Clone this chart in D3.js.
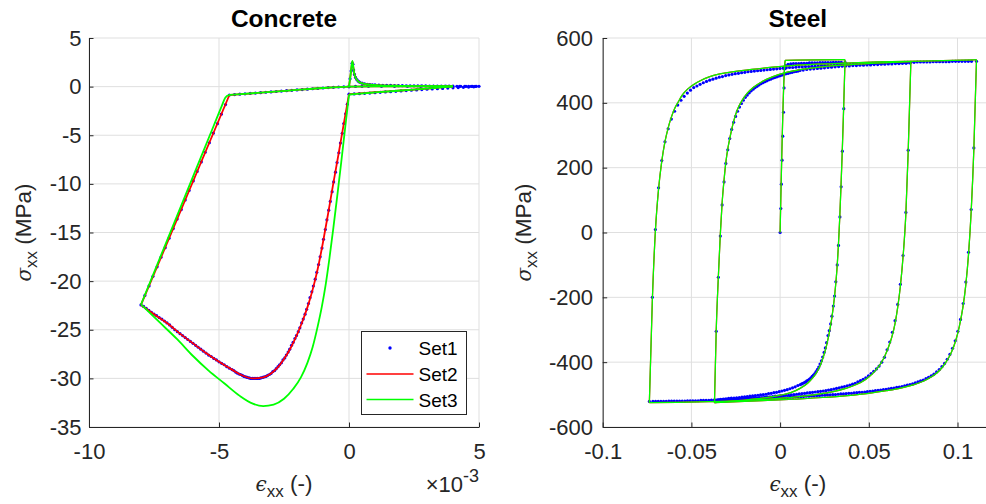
<!DOCTYPE html>
<html><head><meta charset="utf-8">
<script src="https://cdn.jsdelivr.net/npm/d3@7"></script>
<style>
body{margin:0;background:#fff;}
svg{display:block;}
</style></head><body>
<svg id="chart" width="986" height="504"></svg>
<script>
// ---------------- Concrete (strain in 1e-3) ----------------
const concXTicks = [-10, -5, 0, 5];
const concXLabels = ["-10", "-5", "0", "5"];
const concYTicks = [-35, -30, -25, -20, -15, -10, -5, 0, 5];
const concYLabels = ["-35", "-30", "-25", "-20", "-15", "-10", "-5", "0", "5"];

// Set1 (blue dots)
const concSet1 = [
 [0,0],[0.04,0.8],[0.08,1.6],[0.12,2.4],[0.15,2.3],[0.18,1.7],[0.21,1.25],[0.25,0.95],[0.3,0.72],[0.35,0.57],[0.4,0.47],[0.5,0.35],[0.6,0.28],[0.7,0.24],[0.8,0.21],[0.9,0.19],[1.0,0.17],[1.15,0.15],[1.3,0.14],[1.45,0.13],[1.6,0.12],[1.75,0.11],[1.9,0.1],[2.05,0.1],[2.2,0.09],[2.35,0.09],[2.5,0.08],[2.65,0.08],[2.8,0.07],[2.95,0.07],[3.1,0.06],[3.25,0.06],[3.4,0.06],[3.55,0.05],[3.7,0.05],[3.85,0.05],[4.0,0.05],[4.15,0.04],[4.3,0.04],[4.45,0.04],[4.6,0.04],[4.75,0.03],[4.9,0.03],[5.0,0.03],
 [4.8,-0.02],[4.6,-0.05],[4.4,-0.07],[4.2,-0.1],[4.0,-0.12],[3.8,-0.15],[3.6,-0.18],[3.4,-0.21],[3.2,-0.24],[3.0,-0.27],[2.8,-0.3],[2.6,-0.34],[2.4,-0.37],[2.2,-0.41],[2.0,-0.44],[1.8,-0.48],[1.6,-0.52],[1.4,-0.55],[1.2,-0.59],[1.0,-0.62],[0.8,-0.66],[0.6,-0.69],[0.4,-0.72],[0.2,-0.75],[0,-0.78],
 [-0.065,-1.8],[-0.13,-2.8],[-0.2,-3.8],[-0.26,-4.8],[-0.33,-5.8],[-0.39,-6.8],[-0.46,-7.8],[-0.52,-8.8],[-0.59,-9.8],[-0.65,-10.8],[-0.72,-11.8],[-0.78,-12.7],[-0.85,-13.7],[-0.91,-14.7],[-0.98,-15.7],[-1.04,-16.6],[-1.11,-17.5],[-1.17,-18.3],[-1.24,-19.1],[-1.3,-19.8],[-1.37,-20.5],[-1.43,-21.1],[-1.5,-21.7],[-1.56,-22.3],[-1.63,-22.9],[-1.69,-23.4],[-1.76,-23.9],[-1.82,-24.3],[-1.89,-24.8],[-1.95,-25.2],[-2.02,-25.6],[-2.08,-25.9],[-2.15,-26.3],[-2.21,-26.6],[-2.28,-27.0],[-2.34,-27.3],[-2.41,-27.6],[-2.47,-27.9],[-2.54,-28.1],[-2.6,-28.4],[-2.67,-28.6],[-2.73,-28.8],[-2.8,-29.0],[-2.86,-29.2],[-2.93,-29.3],[-3.0,-29.5],[-3.06,-29.6],[-3.13,-29.7],[-3.19,-29.8],[-3.26,-29.85],[-3.32,-29.9],[-3.39,-29.95],[-3.45,-30.0],[-3.52,-30.0],[-3.58,-30.0],[-3.65,-30.0],[-3.71,-30.0],[-3.78,-30.0],[-3.84,-29.95],[-3.91,-29.9],[-3.97,-29.85],[-4.04,-29.8],[-4.1,-29.7],[-4.17,-29.6],[-4.23,-29.55],[-4.3,-29.45],[-4.36,-29.35],[-4.43,-29.2],
 [-4.5,-29.1],[-4.6,-28.95],[-4.7,-28.8],[-4.8,-28.6],[-4.9,-28.45],[-5.0,-28.3],[-5.1,-28.1],[-5.2,-27.95],[-5.3,-27.75],[-5.4,-27.6],[-5.5,-27.4],[-5.6,-27.2],[-5.7,-27.0],[-5.8,-26.8],[-5.9,-26.6],[-6.0,-26.4],[-6.1,-26.2],[-6.2,-26.0],[-6.3,-25.8],[-6.4,-25.6],[-6.5,-25.4],[-6.6,-25.2],[-6.7,-25.0],[-6.8,-24.75],[-6.9,-24.5],[-7.0,-24.3],[-7.1,-24.1],[-7.2,-23.9],[-7.3,-23.75],[-7.4,-23.55],[-7.5,-23.4],[-7.6,-23.2],[-7.7,-23.0],[-7.8,-22.8],[-7.9,-22.6],[-8.0,-22.45],
 [-7.85,-21.47],[-7.69,-20.49],[-7.54,-19.51],[-7.38,-18.53],[-7.23,-17.54],[-7.07,-16.56],[-6.92,-15.58],[-6.76,-14.6],[-6.61,-13.62],[-6.45,-12.64],[-6.3,-11.66],[-6.15,-10.68],[-5.99,-9.7],[-5.84,-8.72],[-5.68,-7.74],[-5.53,-6.75],[-5.37,-5.77],[-5.22,-4.79],[-5.06,-3.81],[-4.91,-2.83],[-4.75,-1.85],[-4.6,-0.86],
 [-4.4,-0.82],[-4.2,-0.78],[-4.0,-0.74],[-3.8,-0.7],[-3.6,-0.66],[-3.4,-0.62],[-3.2,-0.58],[-3.0,-0.54],[-2.8,-0.5],[-2.6,-0.46],[-2.4,-0.42],[-2.2,-0.38],[-2.0,-0.34],[-1.8,-0.3],[-1.6,-0.26],[-1.4,-0.22],[-1.2,-0.18],[-1.0,-0.14],[-0.8,-0.1],[-0.6,-0.07],[-0.4,-0.04],[-0.2,-0.02],[0,0],
 [0.25,0.02],[0.5,0.03],[0.75,0.03],[1.25,0.03],[1.75,0.03],[2.25,0.03],[2.75,0.03],[3.25,0.03],[3.75,0.03],[4.25,0.02],[4.5,0.02],[4.7,0.02],[4.85,0.02]
];

// Set2 (red line), branches
const concSet2 = [
 [[0,0],[0.065,1.3],[0.13,2.6],[0.16,2.1],[0.2,1.4],[0.25,0.95],[0.3,0.7],[0.4,0.45],[0.55,0.3],[0.8,0.2],[1.2,0.13],[2,0.08],[3,0.05],[4,0.03]],
 [[4,0.03],[3,-0.2],[2,-0.4],[1,-0.58],[0.3,-0.72],[0,-0.78]],
 [[0,-0.78],[-0.2,-3.8],[-0.4,-6.9],[-0.6,-9.9],[-0.8,-13.0],[-1.0,-16.0],[-1.2,-18.7],[-1.4,-20.9],[-1.6,-22.7],[-1.8,-24.2],[-2.0,-25.5],[-2.25,-26.9],[-2.5,-28.0],[-2.75,-28.9],[-3.0,-29.5],[-3.3,-29.9],[-3.7,-30.0],[-4.1,-29.7],[-4.5,-29.1],[-5.0,-28.3],[-5.5,-27.4],[-6.0,-26.4],[-6.5,-25.4],[-7.0,-24.3],[-7.5,-23.4],[-8.0,-22.45]],
 [[-8.0,-22.45],[-4.6,-0.86]],
 [[-4.6,-0.86],[-3,-0.55],[-2,-0.34],[-1,-0.14],[0,0],[1,0.03],[2,0.03],[3,0.03],[4,0.03]]
];

// Set3 (green line), branches
const concSet3 = [
 [[0,0],[0.065,1.3],[0.13,2.65],[0.16,2.1],[0.2,1.4],[0.25,0.95],[0.3,0.7],[0.4,0.45],[0.55,0.3],[0.8,0.2],[1.2,0.13],[2,0.08],[3,0.05],[4,0.03]],
 [[4,0.03],[3,-0.2],[2,-0.4],[1,-0.6],[0.3,-0.75],[0,-0.82]],
 [[0,-0.82],[-0.15,-4.3],[-0.3,-7.8],[-0.45,-11.2],[-0.6,-14.5],[-0.75,-17.6],[-0.9,-20.4],[-1.05,-22.7],[-1.2,-24.6],[-1.4,-26.8],[-1.6,-28.4],[-1.85,-29.9],[-2.15,-31.1],[-2.5,-32.1],[-2.9,-32.7],[-3.3,-32.85],[-3.7,-32.6],[-4.2,-31.8],[-4.8,-30.5],[-5.4,-29.2],[-6.0,-27.7],[-6.6,-26.0],[-7.3,-24.2],[-8.0,-22.4]],
 [[-8.0,-22.4],[-7.0,-15.83],[-6.0,-9.26],[-5.2,-4.0],[-4.9,-2.03],[-4.76,-1.15],[-4.62,-0.88],[-4.45,-0.82]],
 [[-4.45,-0.82],[-3,-0.55],[-2,-0.34],[-1,-0.14],[0,0],[1,0.03],[2,0.03],[3,0.03],[4,0.03]]
];

// ---------------- Steel ----------------
const steelXTicks = [-0.1, -0.05, 0, 0.05, 0.1];
const steelXLabels = ["-0.1", "-0.05", "0", "0.05", "0.1"];
const steelYTicks = [-600, -400, -200, 0, 200, 400, 600];
const steelYLabels = ["-600", "-400", "-200", "0", "200", "400", "600"];

// Set1 (blue dots)
const steelSet1 = [
 [0,0],[0.0004,74],[0.0007,149],[0.0011,223],[0.0015,297],[0.0019,371],[0.0022,446],[0.0026,505],[0.003,515],[0.0045,519],[0.006,520],[0.0075,521],[0.009,521],[0.0105,521],[0.012,522],[0.0135,522],[0.015,522],[0.0165,523],[0.018,523],[0.0195,523],[0.021,523],[0.0225,524],[0.024,524],[0.0255,524],[0.027,524],[0.0285,524],[0.03,525],[0.0315,525],[0.033,525],[0.0345,525],[0.0366,525],
 [0.0359,382],[0.0351,251],[0.0344,141],[0.0337,48],[0.0329,-40],[0.0322,-100],[0.0314,-152],[0.0307,-196],[0.0300,-227],[0.0292,-258],[0.0285,-282],[0.0277,-303],[0.0270,-318],[0.0262,-340],[0.0255,-356],[0.0248,-370],[0.0240,-384],[0.0233,-396],[0.0225,-406],[0.0218,-415],[0.0211,-422],[0.0203,-429],[0.0196,-435],[0.0188,-440],[0.0181,-444],[0.0174,-448],[0.0166,-452],[0.0159,-455],[0.0151,-458],[0.0144,-461],[0.0137,-463],[0.0129,-465],[0.0122,-467],[0.0114,-469],[0.0100,-472],[0.0085,-476],[0.0070,-479],[0.0055,-482],[0.0040,-485],[0.0025,-487],[0.0010,-489],[-0.0005,-491],[-0.0020,-493],[-0.0035,-494],[-0.0050,-496],[-0.0065,-497],[-0.0080,-499],[-0.0095,-500],[-0.0110,-501],[-0.0125,-502],[-0.0140,-503],[-0.0155,-504],[-0.0170,-505],[-0.0185,-506],[-0.0200,-507],[-0.0215,-508],[-0.0230,-509],[-0.0245,-510],[-0.0260,-511],[-0.0275,-511],[-0.0290,-512],[-0.0305,-513],[-0.0320,-514],[-0.0335,-515],[-0.0350,-516],[-0.0368,-517],
 [-0.0360,-305],[-0.0348,-138],[-0.0337,-11],[-0.0327,85],[-0.0316,156],[-0.0306,213],[-0.0295,255],[-0.0284,290],[-0.0273,318],[-0.0262,340],[-0.0251,358],[-0.0240,374],[-0.0229,387],[-0.0218,398],[-0.0207,408],[-0.0196,417],[-0.0185,424],[-0.0174,431],[-0.0163,437],[-0.0152,442],[-0.0141,447],[-0.0130,451],[-0.0119,455],[-0.0108,459],[-0.0097,462],[-0.0086,465],[-0.0075,468],[-0.0064,471],[-0.0053,473],[-0.0042,476],[-0.0031,478],[-0.0020,480],[-0.0009,482],[0.0002,484],[0.0013,486],[0.0024,488],[0.0035,490],[0.0046,491],[0.0057,493],[0.0068,494],[0.0079,496],[0.0090,497],[0.0101,498],[0.0112,500],[0.013,501],[0.015,503],[0.017,504],[0.019,505],[0.021,506],[0.023,507],[0.025,508],[0.027,509],[0.029,510],[0.031,511],[0.033,512],[0.035,513],[0.037,514],[0.039,514],[0.041,515],[0.043,515],[0.045,516],[0.047,516],[0.049,517],[0.051,517],[0.053,518],[0.055,518],[0.057,519],[0.059,519],[0.061,520],[0.063,520],[0.065,521],[0.067,521],[0.069,522],[0.071,522],[0.0731,523],
 [0.0722,254],[0.0709,62],[0.0693,-71],[0.0678,-160],[0.0663,-222],[0.0648,-272],[0.0633,-308],[0.0618,-338],[0.0603,-362],[0.0588,-385],[0.0573,-400],[0.0558,-412],[0.0543,-421],[0.0528,-428],[0.0513,-435],[0.0498,-442],[0.0483,-448],[0.0468,-453],[0.0453,-457],[0.0438,-461],[0.0423,-465],[0.0408,-468],[0.0393,-471],[0.0378,-473],[0.0363,-475],[0.0348,-477],[0.0333,-479],[0.0318,-481],[0.0303,-483],[0.0288,-485],[0.0273,-486],[0.0258,-488],[0.0243,-489],[0.0228,-490],[0.0213,-491],[0.0198,-492],[0.0183,-493],[0.0168,-494],[0.0153,-495],[0.0138,-496],[0.0123,-497],[0.0108,-498],[0.0093,-499],[0.0078,-500],[0.0063,-501],[0.0048,-502],[0.0033,-502],[0.0018,-503],[0.0003,-504],[-0.0012,-505],[-0.0027,-505],[-0.0042,-506],[-0.0057,-507],[-0.0072,-507],[-0.0087,-508],[-0.0102,-509],[-0.0117,-509],[-0.0132,-510],[-0.0147,-510],[-0.0162,-511],[-0.0177,-511],[-0.0192,-512],[-0.0207,-512],[-0.0222,-513],[-0.0237,-513],[-0.0252,-514],[-0.0267,-514],[-0.0282,-515],[-0.0297,-515],[-0.0312,-515],[-0.0327,-516],[-0.0342,-516],[-0.0357,-517],[-0.0372,-517],[-0.0387,-517],[-0.0402,-518],[-0.0417,-518],[-0.0432,-518],[-0.0447,-518],[-0.0462,-519],[-0.0477,-519],[-0.0492,-519],[-0.0507,-519],[-0.0522,-519],[-0.0537,-520],[-0.0552,-520],[-0.0567,-520],[-0.0582,-520],[-0.0597,-520],[-0.0612,-520],[-0.0627,-520],[-0.0642,-521],[-0.0657,-521],[-0.0672,-521],[-0.0687,-521],[-0.0702,-521],[-0.0717,-521],[-0.0737,-521],
 [-0.0720,-200],[-0.0703,9],[-0.0685,138],[-0.0667,222],[-0.0649,280],[-0.0631,320],[-0.0613,350],[-0.0595,374],[-0.0577,393],[-0.0559,408],[-0.0541,420],[-0.0523,430],[-0.0505,439],[-0.0487,447],[-0.0469,452],[-0.0451,457],[-0.0433,462],[-0.0415,466],[-0.0397,470],[-0.0379,473],[-0.0361,476],[-0.0343,479],[-0.0325,481],[-0.0307,484],[-0.0289,486],[-0.0271,488],[-0.0253,490],[-0.0235,491],[-0.0217,493],[-0.0199,494],[-0.0181,496],[-0.0163,497],[-0.0145,498],[-0.0127,499],[-0.0109,500],[-0.0091,501],[-0.0073,502],[-0.0055,503],[-0.0037,504],[-0.0019,505],[-0.0001,506],[0.0017,507],[0.0035,508],[0.0053,509],[0.0071,509],[0.0089,510],[0.0107,511],[0.0125,511],[0.0143,512],[0.0161,512],[0.0179,513],[0.0197,513],[0.0215,514],[0.0233,515],[0.0251,515],[0.0269,516],[0.0287,516],[0.0305,517],[0.0323,517],[0.0341,518],[0.0359,518],[0.0377,519],[0.0395,519],[0.0413,520],[0.0431,520],[0.0449,520],[0.0467,521],[0.0485,521],[0.0503,521],[0.0521,522],[0.0539,522],[0.0557,522],[0.0575,523],[0.0593,523],[0.0611,523],[0.0629,524],[0.0647,524],[0.0665,524],[0.0683,524],[0.0701,525],[0.0719,525],[0.0737,525],[0.0755,525],[0.0773,526],[0.0791,526],[0.0809,526],[0.0827,526],[0.0845,526],[0.0863,527],[0.0881,527],[0.0899,527],[0.0917,527],[0.0935,527],[0.0953,527],[0.0971,528],[0.0989,528],[0.1007,528],[0.1025,528],[0.1043,528],[0.1061,528],[0.1079,528],[0.1107,528],
 [0.1092,261],[0.1077,71],[0.1062,-61],[0.1047,-153],[0.1032,-219],[0.1017,-268],[0.1002,-305],[0.0987,-334],[0.0972,-357],[0.0957,-376],[0.0942,-391],[0.0927,-404],[0.0912,-414],[0.0897,-423],[0.0882,-430],[0.0867,-437],[0.0852,-442],[0.0837,-447],[0.0822,-451],[0.0807,-455],[0.0792,-458],[0.0777,-461],[0.0762,-464],[0.0747,-467],[0.0732,-469],[0.0717,-471],[0.0702,-473],[0.0687,-475],[0.0672,-477],[0.0657,-478],[0.0642,-480],[0.0627,-481],[0.0612,-482],[0.0597,-484],[0.0582,-485],[0.0567,-486],[0.0552,-487],[0.0537,-488],[0.0522,-489],[0.0507,-490],[0.0492,-491],[0.0477,-492],[0.0462,-493],[0.0447,-493],[0.0432,-494],[0.0417,-495],[0.0402,-496],[0.0387,-496],[0.0372,-497],[0.0357,-498],[0.0342,-498],[0.0327,-499],[0.0312,-500],[0.0297,-500],[0.0282,-501],[0.0267,-501],[0.0252,-502],[0.0237,-502],[0.0222,-503],[0.0207,-503],[0.0192,-504],[0.0177,-504],[0.0162,-505],[0.0147,-505],[0.0132,-506],[0.0117,-506],[0.0102,-507],[0.0087,-507],[0.0072,-508],[0.0057,-508],[0.0042,-509],[0.0027,-509],[0.0012,-510],[-0.0003,-510],[-0.0018,-510],[-0.0033,-511],[-0.0048,-511],[-0.0063,-512],[-0.0078,-512],[-0.0093,-512],[-0.0108,-513],[-0.0123,-513],[-0.0138,-513],[-0.0153,-514],[-0.0168,-514],[-0.0183,-514],[-0.0198,-515],[-0.0213,-515],[-0.0228,-515],[-0.0243,-516],[-0.0258,-516],[-0.0273,-516],[-0.0288,-516],[-0.0303,-517],[-0.0318,-517],[-0.0333,-517],[-0.0348,-517],[-0.0363,-518]
];

// Set3 (green line), branches
const steelSet3 = [
 [[0,0],[0.0027,524],[0.0029,531],[0.0366,533]],
 [[0.0366,533],[0.0358,382],[0.0350,245],[0.0343,140],[0.0336,45],[0.0322,-100],[0.0307,-196],[0.0292,-262],[0.0277,-310],[0.0262,-348],[0.0247,-378],[0.0230,-405],[0.0210,-428],[0.0185,-448],[0.0155,-465],[0.0115,-480],[0.0060,-494],[0.0,-502],[-0.010,-511],[-0.022,-518],[-0.037,-525]],
 [[-0.037,-525],[-0.0360,-300],[-0.0348,-135],[-0.0337,-5],[-0.0327,90],[-0.0316,162],[-0.0305,220],[-0.0293,264],[-0.0280,300],[-0.0262,343],[-0.0240,380],[-0.0215,407],[-0.0185,430],[-0.015,448],[-0.010,466],[-0.004,481],[0.003,493],[0.012,503],[0.025,512],[0.040,518],[0.057,523],[0.0737,527]],
 [[0.0737,527],[0.0722,250],[0.0709,60],[0.0693,-75],[0.0678,-165],[0.0663,-230],[0.0648,-280],[0.0630,-322],[0.0610,-355],[0.0585,-387],[0.0555,-414],[0.0520,-436],[0.0480,-454],[0.0430,-469],[0.0370,-481],[0.0300,-491],[0.0200,-500],[0.0080,-508],[-0.0060,-514],[-0.0220,-519],[-0.0400,-522],[-0.0580,-524],[-0.0737,-525]],
 [[-0.0737,-525],[-0.0720,-205],[-0.0703,5],[-0.0685,135],[-0.0667,220],[-0.0649,280],[-0.0631,323],[-0.0613,356],[-0.0595,382],[-0.0575,402],[-0.0550,425],[-0.0520,443],[-0.0485,457],[-0.0450,468],[-0.040,480],[-0.034,489],[-0.026,496],[-0.016,503],[-0.004,510],[0.010,516],[0.030,521],[0.055,526],[0.080,529],[0.1107,533]],
 [[0.1107,533],[0.1092,255],[0.1077,65],[0.1062,-68],[0.1047,-160],[0.1030,-232],[0.1010,-290],[0.0990,-333],[0.0965,-370],[0.0935,-400],[0.0900,-425],[0.0860,-443],[0.0810,-458],[0.0750,-470],[0.0680,-480],[0.0600,-488],[0.0500,-496],[0.0380,-503],[0.0240,-509],[0.0080,-514],[-0.0100,-519],[-0.0370,-525]]
];
// Set2 (red line) coincides with Set3 in the steel panel
const steelSet2 = steelSet3;

const legendLabels = ["Set1", "Set2", "Set3"];

// ---------------- drawing ----------------
const FONT = '"Liberation Sans", Arial, Helvetica, sans-serif';
const AX = '#262626', GRID = '#dfdfdf';
const svg = d3.select('#chart');

function panel(o) {
  const {x, y} = o;
  const [xl, xr] = x.range(), [yb, yt] = y.range();
  const g = svg.append('g');
  g.append('g').selectAll('line').data(o.xTicks).join('line')
    .attr('x1', d => x(d)).attr('x2', d => x(d)).attr('y1', yb).attr('y2', yt)
    .attr('stroke', GRID).attr('stroke-width', 1);
  g.append('g').selectAll('line').data(o.yTicks).join('line')
    .attr('y1', d => y(d)).attr('y2', d => y(d)).attr('x1', xl).attr('x2', xr)
    .attr('stroke', GRID).attr('stroke-width', 1);

  const line = d3.line().x(d => x(d[0])).y(d => y(d[1])).curve(d3.curveMonotoneX);
  g.append('g').selectAll('circle').data(o.dots).join('circle')
    .attr('cx', d => x(d[0])).attr('cy', d => y(d[1])).attr('r', 1.6).attr('fill', '#0000ff');
  g.append('g').selectAll('path').data(o.red).join('path')
    .attr('d', line).attr('fill', 'none').attr('stroke', '#ff0000').attr('stroke-width', o.lw)
    .attr('stroke-linejoin', 'round');
  g.append('g').selectAll('path').data(o.green).join('path')
    .attr('d', line).attr('fill', 'none').attr('stroke', '#00ff00').attr('stroke-width', o.lw)
    .attr('stroke-linejoin', 'round');

  const style = s => {
    s.attr('font-size', 22).attr('font-family', FONT).attr('color', AX);
    s.selectAll('.tick line').attr('stroke-width', 1);
  };
  g.append('g').attr('transform', `translate(0,${yb})`)
    .call(d3.axisBottom(x).tickValues(o.xTicks).tickFormat((d, i) => o.xLabels[i])
      .tickSizeInner(-4.5).tickSizeOuter(0).tickPadding(16)).call(style);
  g.append('g').attr('transform', `translate(${xl},0)`)
    .call(d3.axisLeft(y).tickValues(o.yTicks).tickFormat((d, i) => o.yLabels[i])
      .tickSizeInner(-4.5).tickSizeOuter(0).tickPadding(o.yPad)).call(style);

  const cx = (xl + xr) / 2;
  svg.append('text').attr('x', cx).attr('y', 27).attr('text-anchor', 'middle')
    .attr('font-family', FONT).attr('font-weight', 'bold').attr('font-size', 24.5)
    .attr('fill', '#000').text(o.title);

  const xt = svg.append('text').attr('x', cx).attr('y', 491).attr('text-anchor', 'middle')
    .attr('font-family', FONT).attr('font-size', 22.5).attr('fill', AX);
  xt.append('tspan').attr('font-family', '"DejaVu Serif", serif').attr('font-style', 'italic').attr('font-size', 20).text('ϵ');
  xt.append('tspan').attr('font-size', 17).attr('dy', 6).text('xx');
  xt.append('tspan').attr('dy', -6).text('\u00a0(-)');

  const yt2 = svg.append('text').attr('transform', `translate(${o.yLabX},${(yb + yt) / 2}) rotate(-90)`)
    .attr('text-anchor', 'middle').attr('font-family', FONT).attr('font-size', 22.5).attr('fill', AX);
  yt2.append('tspan').attr('font-family', '"DejaVu Serif", serif').attr('font-style', 'italic').attr('font-size', 20).text('σ');
  yt2.append('tspan').attr('font-size', 17).attr('dy', 6).text('xx');
  yt2.append('tspan').attr('dy', -6).text('\u00a0(MPa)');
  return g;
}

const cx = d3.scaleLinear().domain([-10, 5]).range([89, 479]);
const cy = d3.scaleLinear().domain([-35, 5]).range([427, 38]);
panel({x: cx, y: cy, xTicks: concXTicks, xLabels: concXLabels, yTicks: concYTicks, yLabels: concYLabels,
  dots: concSet1, red: concSet2, green: concSet3, lw: 1.8, yPad: 7.5, yLabX: 31, title: 'Concrete'});

// exponent label
const ex = svg.append('text').attr('x', 479).attr('y', 492).attr('text-anchor', 'end')
  .attr('font-family', FONT).attr('font-size', 22).attr('fill', AX);
ex.append('tspan').text('×10');
ex.append('tspan').attr('font-size', 18).attr('dy', -10).text('-3');

const sx = d3.scaleLinear().domain([-0.1, 0.12]).range([602.7, 993]);
const sy = d3.scaleLinear().domain([-600, 600]).range([427, 38]);
panel({x: sx, y: sy, xTicks: steelXTicks, xLabels: steelXLabels, yTicks: steelYTicks, yLabels: steelYLabels,
  dots: steelSet1, red: steelSet2, green: steelSet3, lw: 1.25, yPad: 9.7, yLabX: 530.5, title: 'Steel'});

// legend (concrete panel)
const lg = svg.append('g');
lg.append('rect').attr('x', 361.5).attr('y', 331.5).attr('width', 105).attr('height', 83)
  .attr('fill', '#fff').attr('stroke', AX).attr('stroke-width', 1);
const rows = [348, 374, 399.5];
lg.append('circle').attr('cx', 390).attr('cy', rows[0]).attr('r', 1.7).attr('fill', '#0000ff');
lg.append('line').attr('x1', 366.5).attr('x2', 413.5).attr('y1', rows[1]).attr('y2', rows[1]).attr('stroke', '#ff0000').attr('stroke-width', 1.7);
lg.append('line').attr('x1', 366.5).attr('x2', 413.5).attr('y1', rows[2]).attr('y2', rows[2]).attr('stroke', '#00ff00').attr('stroke-width', 1.7);
lg.selectAll('text').data(legendLabels).join('text')
  .attr('x', 418.5).attr('y', (d, i) => rows[i] + 7.3)
  .attr('font-family', FONT).attr('font-size', 19).attr('fill', '#000').text(d => d);
</script>
</body></html>
